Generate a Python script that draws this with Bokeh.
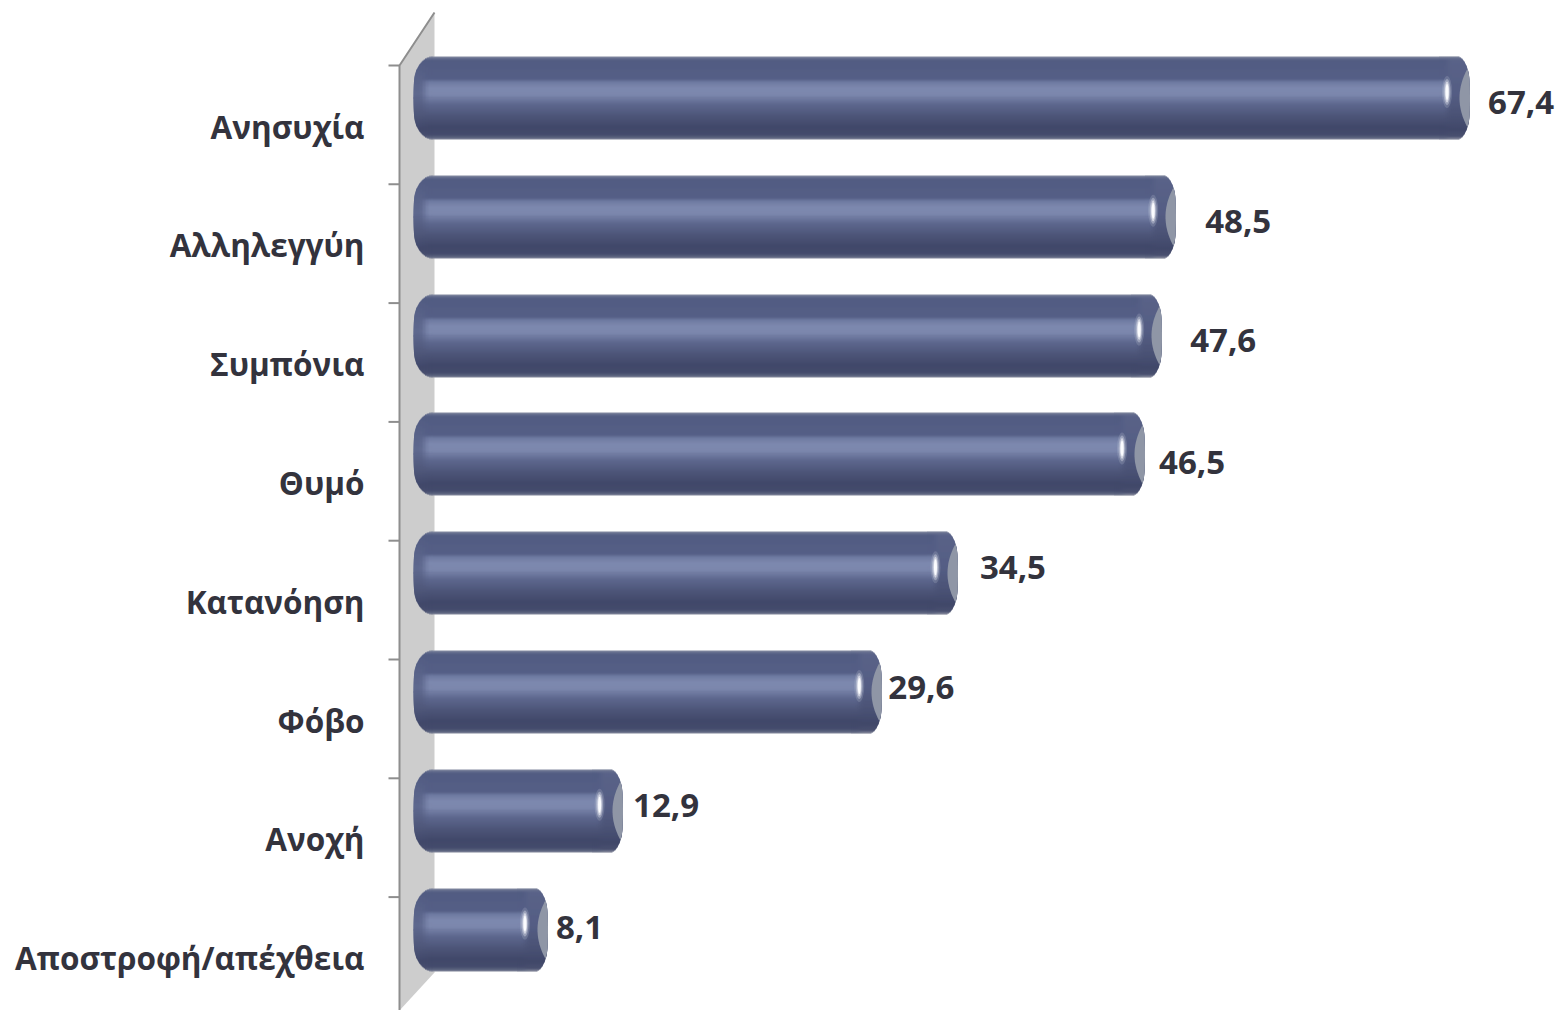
import numpy as np
from bokeh.plotting import figure
from bokeh.models import Range1d, ColumnDataSource
from bokeh.core.properties import value as val
from bokeh.embed import file_html
from bokeh.resources import INLINE

categories = ["Ανησυχία", "Αλληλεγγύη", "Συμπόνια", "Θυμό", "Κατανόηση", "Φόβο", "Ανοχή", "Αποστροφή/απέχθεια"]
values = [67.4, 48.5, 47.6, 46.5, 34.5, 29.6, 12.9, 8.1]
value_labels = ["67,4", "48,5", "47,6", "46,5", "34,5", "29,6", "12,9", "8,1"]

# layout (pixels)
W, H = 1557, 1010
X0, SX = 421.0, 15.55
Y0, SY = 97.5, 118.8
BAR_H = 83
FONT = "Open Sans"
label_dx = [18.5, 29.5, 28.5, 14.5, 22, 6.5, 11, 8.5]
label_dy = [4, 4.5, 4.5, 8.5, -6, -5, -5, -2.5]

def dx(px): return (px - X0) / SX
def dy(py): return (py - Y0) / SY

p = figure(width=W, height=H, output_backend="svg", toolbar_location=None,
           x_range=Range1d(dx(0), dx(W)), y_range=Range1d(dy(H), dy(0)),
           min_border=0, outline_line_color=None, background_fill_color="white",
           border_fill_color="white")
p.axis.visible = False
p.grid.visible = False

# wall
p.patch([dx(399), dx(434), dx(434), dx(399)], [dy(65), dy(12), dy(972), dy(1010)],
        fill_color="#cdcdcd", line_color=None)
p.line([dx(399), dx(399), dx(434)], [dy(1010), dy(65), dy(12)], line_color="#8e8e8e", line_width=2)
ticks = [dy(65) + i for i in range(8)]
p.segment([dx(388)] * 8, ticks, [dx(399)] * 8, ticks, line_color="#8e8e8e", line_width=2)

def rgb(h): return np.array([int(h[i:i + 2], 16) for i in (1, 3, 5)], float)
def table(stops):
    ts = [s[0] for s in stops]
    cs = np.array([rgb(s[1]) for s in stops])
    return lambda t: np.array([np.interp(t, ts, cs[:, i]) for i in range(3)])
grad = table([(0, "#9096a8"), (.02, "#666f8e"), (.05, "#525c82"), (.27, "#555f86"), (.31, "#6f7aa1"),
              (.38, "#7d88ae"), (.46, "#7c87ad"), (.58, "#5d678d"), (.72, "#4d5578"), (.85, "#41486a"),
              (.94, "#444b6c"), (.98, "#5c6480"), (1, "#8f93a3")])
cap_l = table([(0, "#9096a8"), (.02, "#666f8e"), (.05, "#525c82"), (.45, "#5f698e"), (.7, "#4f577a"),
               (.88, "#41486a"), (.96, "#4a5170"), (1, "#8f93a3")])
cap_r = table([(0, "#9096a8"), (.02, "#666f8e"), (.05, "#5a6388"), (.45, "#555e84"), (.7, "#4b5376"),
               (.88, "#41486a"), (.96, "#4a5170"), (1, "#8f93a3")])
def hexc(c): return "#%02x%02x%02x" % tuple(int(round(v)) for v in c)
def smooth(e0, e1, x):
    s = min(1.0, max(0.0, (x - e0) / (e1 - e0)))
    return s * s * (3 - 2 * s)

L, R, T, B, C = [], [], [], [], []
def inset(u, rad, bulge, th=.42):
    s = max(0.0, (abs(u) - th) / (1 - th))
    return rad * (1 - np.sqrt(max(0, 1 - s * s))) + bulge * u * u

MID = BAR_H // 2
# rows are painted from both outer edges towards the middle, each overlapping the next one
ROW_ORDER = list(range(MID)) + list(range(BAR_H - 1, MID - 1, -1))

for k, v in enumerate(values):
    tip = round(X0 + SX * v)
    top = round(Y0 + SY * k - BAR_H / 2)
    for r in ROW_ORDER:
        t = (r + .5) / BAR_H
        u = 2 * t - 1
        base, cl, cr = grad(t), cap_l(t), cap_r(t)
        if r < MID:
            ytop, ybot = top + r, top + r + 2
        elif r == MID:
            ytop, ybot = top + r, top + r + 1
        else:
            ytop, ybot = top + r - 1, top + r + 1
        xl = 413 + inset(u, 16, 3)
        xr = tip + 0.5 - inset(u, 10, 2.5)
        edges = np.arange(413, 434, 3.0)
        for a, b in zip(edges[:-1], edges[1:]):
            if b <= xl: continue
            f = 1 - smooth(5, 17, a + 1.5 - 413)
            L.append(dx(max(a, xl))); R.append(dx(b + 1)); T.append(dy(ytop)); B.append(dy(ybot))
            C.append(hexc(base * (1 - f) + cl * f))
        L.append(dx(edges[-1])); R.append(dx(tip - 29)); T.append(dy(ytop)); B.append(dy(ybot))
        C.append(hexc(base))
        edges = np.arange(tip - 30, tip + 1, 2.0)
        for a, b in zip(edges[:-1], edges[1:]):
            if a >= xr: continue
            f = 1 - smooth(17, 27, tip - (a + 1))
            L.append(dx(a)); R.append(dx(min(b + 1, xr))); T.append(dy(ytop)); B.append(dy(ybot))
            C.append(hexc(base * (1 - f) + cr * f))

p.quad(left=L, right=R, top=T, bottom=B, fill_color=C, line_color=None)

ys = list(range(len(values)))
# end face: lens between a concave arc and the cap outline
us = np.linspace(-.7, .7, 33)
fxs, fys = [], []
for k, v in enumerate(values):
    tip = round(X0 + SX * v)
    left = [tip - 10 + 16 * u * u for u in us]
    right = [tip + 0.5 - inset(u, 10, 2.5) for u in us[::-1]]
    yy = [k + u * BAR_H / 2 / SY for u in us]
    fxs.append([dx(x) for x in left + right])
    fys.append(yy + yy[::-1])
p.patches(fxs, fys, fill_color="#8f96a6", line_color=None)

hi_x = [dx(X0 + SX * v - 22.5) for v in values]
hi_y = [y + dy(Y0 - 6) for y in ys]
for w_, h_, a_ in [(10, 32, .14), (7, 26, .3), (4.5, 21, .55), (3, 16, 1)]:
    p.ellipse(hi_x, hi_y, width=w_, height=h_, width_units="screen", height_units="screen",
              fill_color="#fbfcff", fill_alpha=a_, line_color=None)

# category labels
p.text(x=[dx(364)] * 8, y=ys, text=categories, y_offset=28, text_align="right", text_baseline="middle",
       text_font=val(FONT), text_font_style="bold", text_font_size="31.5px", text_color="#33333d")
# value labels
src = ColumnDataSource(dict(x=values, y=ys, t=value_labels, ox=label_dx, oy=label_dy))
p.text(x="x", y="y", text="t", x_offset="ox", y_offset="oy", source=src, text_align="left",
       text_baseline="middle", text_font=val(FONT), text_font_style="bold", text_font_size="33px",
       text_color="#33333d")

open("out.html", "w").write(file_html(p, INLINE))
